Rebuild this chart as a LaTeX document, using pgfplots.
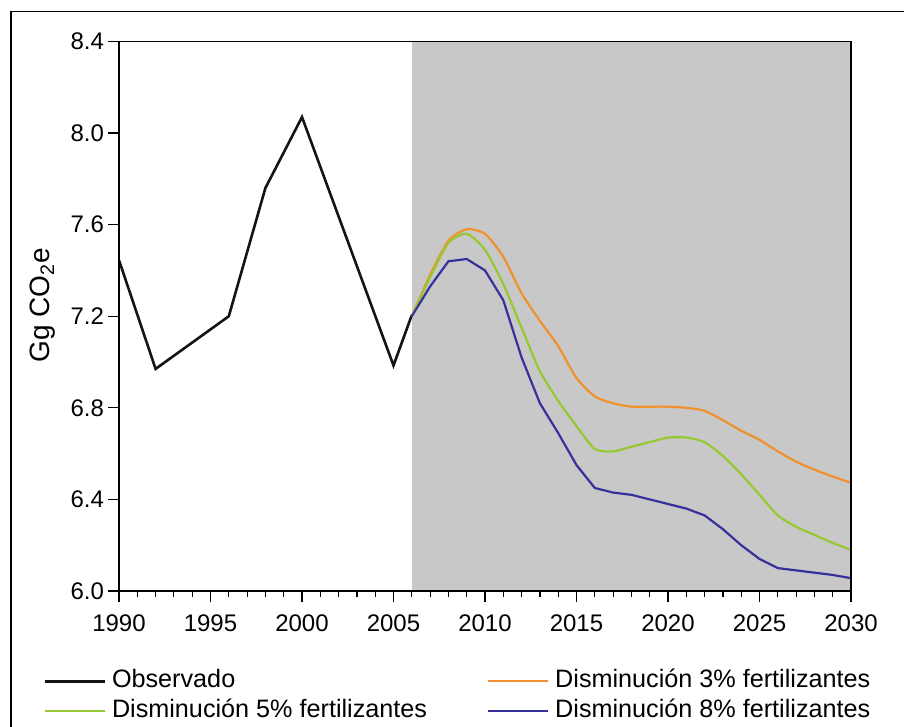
\documentclass[border=0pt]{standalone}
\usepackage{fontspec}
\setmainfont{Liberation Sans}
\usepackage{pgfplots}
\pgfplotsset{compat=1.18}
\definecolor{obs}{RGB}{20,20,20}
\definecolor{tres}{RGB}{240,145,45}
\definecolor{cinco}{RGB}{150,200,50}
\definecolor{ocho}{RGB}{55,50,155}
\definecolor{sombra}{RGB}{200,200,200}

\begin{document}
\begin{tikzpicture}
\path[use as bounding box] (-59.5pt,-68pt) rectangle (392.5pt,295.5pt);
\draw[line width=0.7pt] (-54pt,-75pt) -- (-54pt,289.6pt) -- (400pt,289.6pt);
\begin{axis}[
    scale only axis,
    width=366pt, height=274.75pt,
    xmin=1990, xmax=2030,
    ymin=6, ymax=8.4,
    xtick={1990,1995,...,2030},
    minor x tick num=4,
    ytick={6,6.4,6.8,7.2,7.6,8,8.4},
    tick pos=left,
    tick align=outside,
    major tick length=5.5pt,
    minor tick length=3pt,
    every tick/.style={black, line width=0.6pt},
    axis line style={line width=0.6pt},
    axis on top,
    /pgf/number format/assume math mode=true,
    ticklabel style={font=\fontsize{12}{14}\selectfont},
    xticklabel style={/pgf/number format/1000 sep={}, yshift=-3pt},
    yticklabel style={/pgf/number format/.cd, fixed, fixed zerofill, precision=1, /tikz/xshift=1.5pt},
    ylabel={Gg CO\textsubscript{2}e},
    ylabel style={font=\fontsize{14}{16}\selectfont, at={(axis description cs:-0.1038,0.52)}, anchor=center},
    legend columns=2,
    legend cell align=left,
    legend image code/.code={\draw[#1] (0pt,0pt) -- (30pt,0pt);},
    legend style={draw=none, fill=none, inner sep=0pt, column sep=0pt, row sep=2.5pt,
        at={(axis description cs:-0.1038,-0.141)}, anchor=north west,
        font=\fontsize{12.6}{15}\selectfont,
        nodes={inner sep=0pt, text height=9.5pt, text depth=3pt}},
]
\addplot[fill=sombra, draw=none, forget plot] coordinates {(2006,8.4) (2030,8.4)} \closedcycle;

\addplot[obs, line width=1.3pt] coordinates {
    (1990,7.445) (1992,6.97) (1996,7.2) (1998,7.76) (2000,8.07) (2005,6.985) (2006,7.205)
};
\addlegendentry{\makebox[190.5pt][l]{\hspace{3pt}Observado}}

\addplot[tres, line width=1.1pt, smooth, tension=0.4] coordinates {
    (2006,7.20) (2007,7.38) (2008,7.53) (2009,7.58) (2010,7.56) (2011,7.46) (2012,7.30)
    (2013,7.18) (2014,7.07) (2015,6.93) (2016,6.85) (2017,6.82) (2018,6.805) (2019,6.805)
    (2020,6.805) (2021,6.80) (2022,6.787) (2023,6.746) (2024,6.70) (2025,6.66) (2026,6.61)
    (2027,6.565) (2028,6.53) (2029,6.50) (2030,6.473)
};
\addlegendentry{\hspace{3pt}Disminución 3\% fertilizantes}

\addplot[cinco, line width=1.1pt, smooth, tension=0.4] coordinates {
    (2006,7.20) (2007,7.37) (2008,7.52) (2009,7.56) (2010,7.49) (2011,7.34) (2012,7.15)
    (2013,6.96) (2014,6.83) (2015,6.72) (2016,6.62) (2017,6.61) (2018,6.63) (2019,6.65)
    (2020,6.67) (2021,6.67) (2022,6.65) (2023,6.59) (2024,6.51) (2025,6.42) (2026,6.33)
    (2027,6.28) (2028,6.245) (2029,6.21) (2030,6.18)
};
\addlegendentry{\makebox[190.5pt][l]{\hspace{3pt}Disminución 5\% fertilizantes}}

\addplot[ocho, line width=1.1pt] coordinates {
    (2006,7.20) (2007,7.33) (2008,7.44) (2009,7.45) (2010,7.40) (2011,7.27) (2012,7.02)
    (2013,6.82) (2014,6.69) (2015,6.55) (2016,6.45) (2017,6.43) (2018,6.42) (2019,6.40)
    (2020,6.38) (2021,6.36) (2022,6.33) (2023,6.27) (2024,6.20) (2025,6.14) (2026,6.10)
    (2027,6.09) (2028,6.08) (2029,6.07) (2030,6.056)
};
\addlegendentry{\hspace{3pt}Disminución 8\% fertilizantes}
\end{axis}
\end{tikzpicture}
\end{document}
